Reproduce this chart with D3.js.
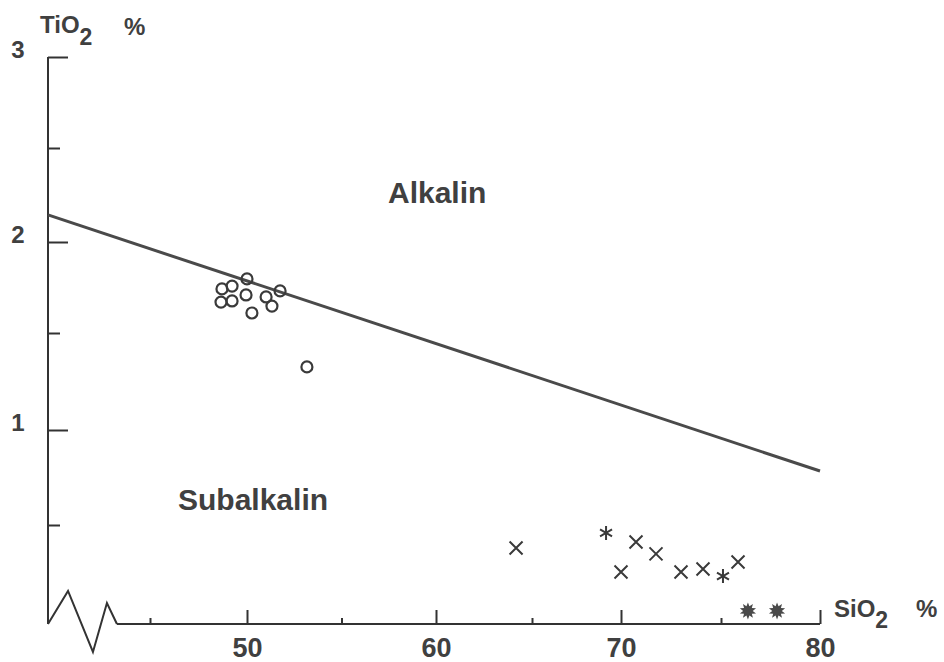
<!DOCTYPE html>
<html lang="de">
<head>
  <meta charset="UTF-8">
  <title>TiO2 gegen SiO2</title>
  <script src="https://d3js.org/d3.v7.min.js"></script>
  <style>
    body { margin: 0; background: #fff; }
    svg text {
      font-family: "Liberation Sans", Arial, Helvetica, sans-serif;
      font-weight: bold;
      fill: #404040;
    }
    .axis path, .axis line { stroke: #333; stroke-width: 2px; }
  </style>
</head>
<body>
  <svg width="944" height="662"></svg>

  <script>
    // Messwerte (SiO2 %, TiO2 %)
    const basalt = [
      [48.71, 1.742], [49.23, 1.758], [48.66, 1.670], [49.23, 1.676],
      [50.0, 1.797], [49.95, 1.709], [51.01, 1.698], [51.32, 1.648],
      [51.75, 1.731], [50.26, 1.610], [53.17, 1.325]
    ];
    const crosses = [
      [64.17, 0.384], [70.0, 0.263], [70.75, 0.414], [71.75, 0.354],
      [73.0, 0.263], [74.1, 0.278], [75.86, 0.313]
    ];
    const asterisks = [[69.16, 0.460], [75.1, 0.242]];
    const stars = [[76.36, 0.061], [77.83, 0.061]];

    // Grenzlinie Alkalin / Subalkalin
    const boundary = [[39.6, 2.144], [80, 0.784]];

    const xMajor = [50, 60, 70, 80];
    const xMinor = [45, 55, 65, 75];
    const yMajor = [1, 2, 3];
    const yMinor = [0.5, 1.5, 2.5];

    // Achsenbruch unten links
    const axisBreak = [[39.6, 0], [40.66, 0.167], [41.98, -0.141], [42.72, 0.106], [43.25, 0]];

    // gezeichnete (leicht ungleichmaessige) Achsenteilung der Vorlage
    const xStops = [39.6, 45, 50, 60, 65, 70, 75, 80];
    const xPix = [48, 150, 247, 436, 532, 621, 721, 820];
    const yStops = [0, 0.5, 1, 1.5, 2, 2.5, 3];
    const yPix = [624, 525, 430, 333, 242, 148, 57];

    const svg = d3.select("svg");
    const x = d3.scaleLinear().domain(xStops).range(xPix);
    const y = d3.scaleLinear().domain(yStops).range(yPix);

    // y-Achse
    svg.append("line")
      .attr("x1", x(39.6)).attr("x2", x(39.6))
      .attr("y1", y(3)).attr("y2", y(0))
      .attr("stroke", "#333").attr("stroke-width", 2);

    const yAx = svg.append("g").attr("class", "axis")
      .attr("transform", `translate(${x(39.6)},0)`)
      .call(d3.axisLeft(y).tickValues(yMajor).tickSize(-20).tickSizeOuter(0).tickFormat(d3.format("d")));
    yAx.select(".domain").remove();
    yAx.selectAll(".tick text")
      .attr("dy", "0").attr("text-anchor", "middle").attr("x", -30)
      .style("font-size", "24px");

    const yAx2 = svg.append("g").attr("class", "axis")
      .attr("transform", `translate(${x(39.6)},0)`)
      .call(d3.axisLeft(y).tickValues(yMinor).tickSize(-12).tickFormat(""));
    yAx2.select(".domain").remove();

    // x-Achse
    svg.append("line")
      .attr("x1", x(43.25)).attr("x2", x(80))
      .attr("y1", y(0)).attr("y2", y(0))
      .attr("stroke", "#333").attr("stroke-width", 2);

    const xAx = svg.append("g").attr("class", "axis")
      .attr("transform", `translate(0,${y(0)})`)
      .call(d3.axisBottom(x).tickValues(xMajor).tickSize(-14).tickSizeOuter(0).tickPadding(14));
    xAx.select(".domain").remove();
    xAx.selectAll(".tick text").attr("dy", "0.71em").style("font-size", "27px");

    const xAx2 = svg.append("g").attr("class", "axis")
      .attr("transform", `translate(0,${y(0)})`)
      .call(d3.axisBottom(x).tickValues(xMinor).tickSize(-6).tickFormat(""));
    xAx2.select(".domain").remove();

    svg.append("path")
      .datum(axisBreak)
      .attr("d", d3.line().x(d => x(d[0])).y(d => y(d[1])))
      .attr("fill", "none").attr("stroke", "#333").attr("stroke-width", 2)
      .attr("stroke-linejoin", "miter");

    // Achsentitel
    const yTitle = svg.append("text").attr("x", 40).attr("y", 33).style("font-size", "24px");
    yTitle.append("tspan").text("TiO");
    yTitle.append("tspan").attr("dy", 12).style("font-size", "23px").text("2");
    svg.append("text").attr("x", 124).attr("y", 35).style("font-size", "24px").text("%");

    const xTitle = svg.append("text").attr("x", 834).attr("y", 617).style("font-size", "24px");
    xTitle.append("tspan").text("SiO");
    xTitle.append("tspan").attr("dy", 11).style("font-size", "23px").text("2");
    svg.append("text").attr("x", 916).attr("y", 617).style("font-size", "24px").text("%");

    // Feldnamen
    svg.append("text").attr("x", 388).attr("y", 203).style("font-size", "30px").text("Alkalin");
    svg.append("text").attr("x", 178).attr("y", 510).style("font-size", "30px").text("Subalkalin");

    // Grenzlinie
    svg.append("path")
      .datum(boundary)
      .attr("d", d3.line().x(d => x(d[0])).y(d => y(d[1])))
      .attr("stroke", "#4a4a4a").attr("stroke-width", 3).attr("fill", "none");

    // Kreise
    svg.append("g").selectAll("circle")
      .data(basalt).join("circle")
      .attr("cx", d => x(d[0])).attr("cy", d => y(d[1]))
      .attr("r", 5.5)
      .attr("fill", "none").attr("stroke", "#3a3a3a").attr("stroke-width", 2.2);

    // Kreuze
    svg.append("g").selectAll("path")
      .data(crosses).join("path")
      .attr("transform", d => `translate(${x(d[0])},${y(d[1])})`)
      .attr("d", "M-6.5,-6.5L6.5,6.5M6.5,-6.5L-6.5,6.5")
      .attr("stroke", "#3a3a3a").attr("stroke-width", 2).attr("fill", "none");

    // Sternchen
    svg.append("g").selectAll("path")
      .data(asterisks).join("path")
      .attr("transform", d => `translate(${x(d[0])},${y(d[1])})`)
      .attr("d", "M0,-7L0,7M-6,-3.5L6,3.5M6,-3.5L-6,3.5")
      .attr("stroke", "#3a3a3a").attr("stroke-width", 2).attr("fill", "none");

    // gefuellte Sterne
    const burst = d3.lineRadial().curve(d3.curveLinearClosed)(
      d3.range(20).map(i => [i * Math.PI / 10, i % 2 ? 4.8 : 8.5])
    );
    svg.append("g").selectAll("path")
      .data(stars).join("path")
      .attr("transform", d => `translate(${x(d[0])},${y(d[1]) - 1})`)
      .attr("d", burst)
      .attr("fill", "#4a4a4a");
  </script>
</body>
</html>
